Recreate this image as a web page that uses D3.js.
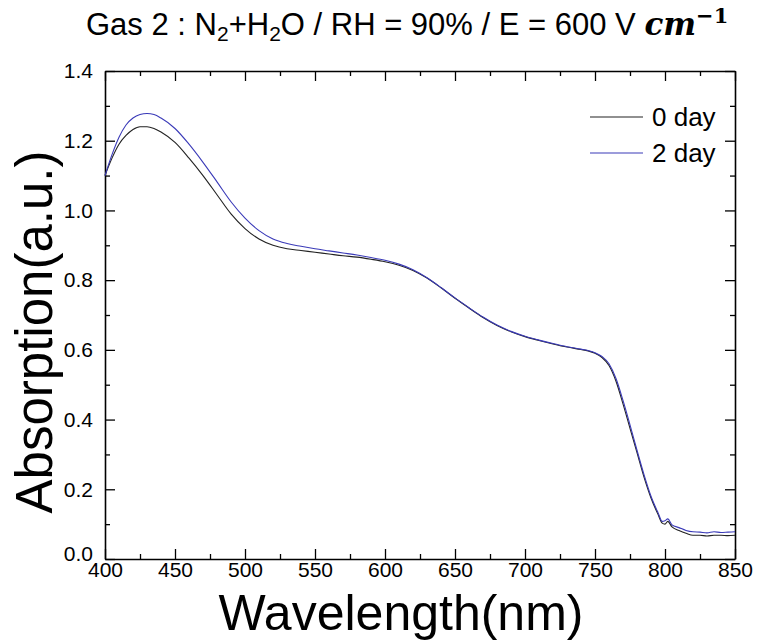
<!DOCTYPE html>
<html>
<head>
<meta charset="utf-8">
<script src="https://cdn.jsdelivr.net/npm/d3@7"></script>
<style>
  body { margin: 0; background: #fff; }
  svg { font-family: "Liberation Sans", Arial, sans-serif; }
</style>
</head>
<body>
<svg id="chart"></svg>
<script>
// wavelength grid (nm)
const wavelength = [400, 405, 410, 415, 420, 425, 430, 435, 440, 450, 460, 470, 480, 490, 500, 510, 520, 530, 540, 550,
  560, 570, 580, 590, 600, 610, 620, 630, 640, 650, 660, 670, 680, 690, 700, 710, 720, 730, 740, 745, 750, 755, 760,
  765, 770, 775, 780, 785, 790, 795, 798, 800, 802, 805, 810, 815, 820, 825, 830, 835, 840, 845, 850];

// absorption, 0 day (black)
const day0 = [1.10, 1.15, 1.19, 1.215, 1.232, 1.240, 1.240, 1.235, 1.225, 1.195, 1.150, 1.100, 1.045, 0.990, 0.948, 0.918, 0.900, 0.890, 0.885, 0.880,
  0.875, 0.870, 0.866, 0.860, 0.853, 0.843, 0.828, 0.806, 0.778, 0.748, 0.720, 0.693, 0.670, 0.652, 0.638, 0.627, 0.617, 0.608, 0.601, 0.597, 0.590, 0.578, 0.555,
  0.510, 0.445, 0.375, 0.305, 0.235, 0.175, 0.128, 0.103, 0.100, 0.108, 0.092, 0.082, 0.074, 0.068, 0.068, 0.066, 0.068, 0.068, 0.067, 0.068];

// absorption, 2 day (blue)
const day2 = [1.10, 1.16, 1.21, 1.245, 1.265, 1.275, 1.278, 1.275, 1.265, 1.235, 1.190, 1.138, 1.082, 1.025, 0.978, 0.942, 0.918, 0.905, 0.897, 0.890,
  0.884, 0.878, 0.872, 0.865, 0.857, 0.846, 0.830, 0.807, 0.779, 0.749, 0.721, 0.694, 0.671, 0.653, 0.639, 0.628, 0.618, 0.609, 0.602, 0.598, 0.592, 0.581, 0.560,
  0.518, 0.455, 0.385, 0.312, 0.242, 0.180, 0.133, 0.108, 0.110, 0.115, 0.098, 0.090, 0.082, 0.078, 0.077, 0.075, 0.078, 0.076, 0.077, 0.078];

const seriesNames = ["0 day", "2 day"];
const seriesColors = ["#222222", "#3a3ab8"];

const xMajor = [400, 450, 500, 550, 600, 650, 700, 750, 800, 850];
const xMinor = [425, 475, 525, 575, 625, 675, 725, 775, 825];
const yMajor = [0.0, 0.2, 0.4, 0.6, 0.8, 1.0, 1.2, 1.4];
const yMinor = [0.1, 0.3, 0.5, 0.7, 0.9, 1.1, 1.3];

const W = 758, H = 641;
const pLeft = 105, pRight = 735, pTop = 71, pBottom = 559;

const svg = d3.select('#chart').attr('width', W).attr('height', H);

const x = d3.scaleLinear().domain([400, 850]).range([pLeft, pRight]);
const y = d3.scaleLinear().domain([0, 1.4]).range([pBottom, pTop]);

// axes: ticks inward on all four sides
function styleAxis(g) {
  g.selectAll('path.domain').attr('stroke', '#000').attr('stroke-width', 1.6);
  g.selectAll('.tick line').attr('stroke', '#000').attr('stroke-width', 1.3);
}

svg.append('g').attr('transform', `translate(0,${pBottom})`)
  .call(d3.axisBottom(x).tickValues(xMajor).tickSize(-10).tickSizeOuter(0).tickPadding(3).tickFormat(d3.format('d')))
  .call(styleAxis)
  .call(g => g.selectAll('text').attr('font-size', 21).attr('fill', '#000'));
svg.append('g').attr('transform', `translate(0,${pBottom})`)
  .call(d3.axisBottom(x).tickValues(xMinor).tickSize(-5).tickFormat(''))
  .call(styleAxis).call(g => g.select('.domain').remove());

svg.append('g').attr('transform', `translate(0,${pTop})`)
  .call(d3.axisTop(x).tickValues(xMajor).tickSize(-10).tickSizeOuter(0).tickFormat(''))
  .call(styleAxis);
svg.append('g').attr('transform', `translate(0,${pTop})`)
  .call(d3.axisTop(x).tickValues(xMinor).tickSize(-5).tickFormat(''))
  .call(styleAxis).call(g => g.select('.domain').remove());

svg.append('g').attr('transform', `translate(${pLeft},0)`)
  .call(d3.axisLeft(y).tickValues(yMajor).tickSize(-10).tickSizeOuter(0).tickPadding(12).tickFormat(d3.format('.1f')))
  .call(styleAxis)
  .call(g => g.selectAll('text').attr('font-size', 21).attr('fill', '#000'))
  // lowest label sits a little higher so it clears the x labels
  .call(g => g.selectAll('.tick').filter(d => d === 0).select('text').attr('dy', '0.05em'));
svg.append('g').attr('transform', `translate(${pLeft},0)`)
  .call(d3.axisLeft(y).tickValues(yMinor).tickSize(-5).tickFormat(''))
  .call(styleAxis).call(g => g.select('.domain').remove());

svg.append('g').attr('transform', `translate(${pRight},0)`)
  .call(d3.axisRight(y).tickValues(yMajor).tickSize(-10).tickSizeOuter(0).tickFormat(''))
  .call(styleAxis);
svg.append('g').attr('transform', `translate(${pRight},0)`)
  .call(d3.axisRight(y).tickValues(yMinor).tickSize(-5).tickFormat(''))
  .call(styleAxis).call(g => g.select('.domain').remove());

// curves
const line = d3.line()
  .x(d => x(d[0]))
  .y(d => y(d[1]))
  .curve(d3.curveMonotoneX);

[day0, day2].forEach((vals, i) => {
  svg.append('path')
    .datum(wavelength.map((w, k) => [w, vals[k]]))
    .attr('fill', 'none')
    .attr('stroke', seriesColors[i])
    .attr('stroke-width', 1.1)
    .attr('d', line);
});

// legend
seriesNames.forEach((name, i) => {
  const ly = 117 + i * 36;
  svg.append('line')
    .attr('x1', 590).attr('x2', 643).attr('y1', ly).attr('y2', ly)
    .attr('stroke', seriesColors[i]).attr('stroke-width', 1.1);
  svg.append('text')
    .attr('x', 652).attr('y', ly).attr('dy', '0.36em')
    .attr('font-size', 26)
    .text(name);
});

// axis titles
svg.append('text')
  .attr('x', 401).attr('y', 630)
  .attr('text-anchor', 'middle')
  .attr('font-size', 50)
  .text('Wavelength(nm)');

svg.append('text')
  .attr('transform', 'translate(52,332) rotate(-90)')
  .attr('text-anchor', 'middle')
  .attr('font-size', 51)
  .text('Absorption(a.u.)');

// title
const title = svg.append('text')
  .attr('x', 86).attr('y', 35)
  .attr('font-size', 31);
title.append('tspan').text('Gas 2 : N');
title.append('tspan').attr('font-size', 21).attr('dy', 6).text('2');
title.append('tspan').attr('dy', -6).text('+H');
title.append('tspan').attr('font-size', 21).attr('dy', 6).text('2');
title.append('tspan').attr('dy', -6).text('O / RH = 90% / E = 600 V ');
title.append('tspan')
  .attr('font-family', '"DejaVu Serif", "Liberation Serif", serif')
  .attr('font-style', 'italic').attr('font-weight', 'bold')
  .text('cm');
title.append('tspan')
  .attr('font-family', '"DejaVu Serif", "Liberation Serif", serif')
  .attr('font-weight', 'bold')
  .attr('font-size', 21).attr('dy', -12)
  .text('−1');
</script>
</body>
</html>
